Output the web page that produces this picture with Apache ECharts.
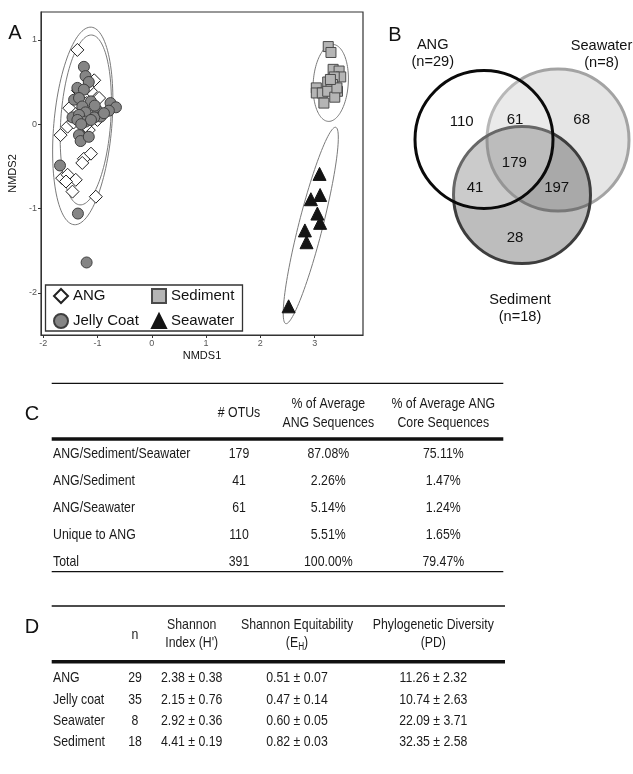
<!DOCTYPE html>
<html>
<head>
<meta charset="utf-8">
<title>ANG, jelly coat, seawater and sediment communities</title>
<script src="https://cdn.jsdelivr.net/npm/echarts@6.0.0/dist/echarts.min.js"></script>
<style>
html, body { margin: 0; padding: 0; background: #ffffff; }
#chart { width: 633px; height: 774px; }
</style>
</head>
<body>
<div id="chart"></div>
<script>
// ---------------- Panel A: NMDS ordination (NMDS1, NMDS2) ----------------
const angPoints = [
  [-1.37, 0.88], [-1.06, 0.52], [-1.12, 0.39], [-0.97, 0.31], [-1.31, 0.29],
  [-1.46, 0.21], [-1.52, 0.19], [-1.03, 0.17], [-1.31, 0.05], [-1.40, 0.12],
  [-1.55, -0.03], [-1.68, -0.13], [-1.16, -0.07], [-1.25, -0.41], [-1.12, -0.35],
  [-1.28, -0.46], [-1.65, -0.64], [-1.55, -0.60], [-1.40, -0.66], [-1.46, -0.80],
  [-1.03, -0.86], [-1.20, 0.25], [-1.10, 0.10], [-1.36, 0.40], [-1.22, -0.02],
  [-1.58, -0.68], [-1.00, 0.05], [-1.44, 0.02], [-1.18, 0.44]
];
const jellyCoatPoints = [
  [-1.25, 0.68], [-1.22, 0.57], [-1.16, 0.50], [-1.37, 0.43], [-1.25, 0.41],
  [-1.43, 0.29], [-1.34, 0.31], [-1.12, 0.27], [-1.28, 0.21], [-1.00, 0.16],
  [-0.76, 0.25], [-0.66, 0.20], [-0.79, 0.16], [-0.94, 0.09], [-1.46, 0.08],
  [-1.22, 0.14], [-1.34, 0.11], [-1.06, 0.08], [-1.22, 0.03], [-1.37, 0.05],
  [-1.12, 0.05], [-1.34, -0.13], [-1.31, -0.20], [-1.16, -0.15], [-1.69, -0.49],
  [-1.36, -1.06], [-1.20, -1.64], [-0.88, 0.13], [-1.05, 0.22], [-1.30, 0.00]
];
const sedimentPoints = [
  [3.25, 0.92], [3.30, 0.85], [3.34, 0.65], [3.45, 0.63], [3.48, 0.56],
  [3.36, 0.56], [3.24, 0.50], [3.33, 0.47], [3.42, 0.39], [3.03, 0.43],
  [3.03, 0.37], [3.14, 0.37], [3.30, 0.41], [3.24, 0.39], [3.37, 0.32],
  [3.17, 0.25], [3.41, 0.43], [3.29, 0.53]
];
const seawaterPoints = [
  [3.09, -0.59], [2.93, -0.89], [3.10, -0.84], [3.05, -1.06],
  [3.10, -1.17], [2.82, -1.26], [2.85, -1.40], [2.52, -2.16]
];

// ---------------- Panel B: OTUs shared between sample types ----------------
const vennSets = ['ANG', 'Seawater', 'Sediment'];
const vennSampleSizes = [29, 8, 18];
const vennRegions = ['ANG only', 'ANG & Seawater', 'Seawater only', 'All three',
                     'ANG & Sediment', 'Seawater & Sediment', 'Sediment only'];
const vennRegionCounts = [110, 61, 68, 179, 41, 197, 28];

// ---------------- Panel C: ANG OTUs by origin ----------------
const overlapCategories = ['ANG/Sediment/Seawater', 'ANG/Sediment', 'ANG/Seawater', 'Unique to ANG', 'Total'];
const otuCounts = [179, 41, 61, 110, 391];
const pctAvgAngSeqs = [87.08, 2.26, 5.14, 5.51, 100.00];
const pctAvgAngCoreSeqs = [75.11, 1.47, 1.24, 1.65, 79.47];
const tableCHeaders = ['', '# OTUs', '% of Average\nANG Sequences', '% of Average ANG\nCore Sequences'];

// ---------------- Panel D: alpha diversity ----------------
const diversityGroups = ['ANG', 'Jelly coat', 'Seawater', 'Sediment'];
const sampleN = [29, 35, 8, 18];
const shannonMean = [2.38, 2.15, 2.92, 4.41];
const shannonSD = [0.38, 0.76, 0.36, 0.19];
const equitMean = [0.51, 0.47, 0.60, 0.82];
const equitSD = [0.07, 0.14, 0.05, 0.03];
const pdMean = [11.26, 10.74, 22.09, 32.35];
const pdSD = [2.32, 2.63, 3.71, 2.58];

// ======================= layout & styling =======================
const SANS = '"Liberation Sans", Arial, Helvetica, sans-serif';

// Tables are set in a narrow face; fall back to a horizontally squeezed regular face.
function hasFont(family) {
  const ctx = document.createElement('canvas').getContext('2d');
  const sample = 'ANG/Sediment/Seawater 0123456789';
  ctx.font = '15px monospace';
  const w0 = ctx.measureText(sample).width;
  ctx.font = '15px "' + family + '", monospace';
  return Math.abs(ctx.measureText(sample).width - w0) > 0.5;
}
const NARROW = hasFont('Liberation Sans Narrow');
const TABLE_FONT = NARROW ? '"Liberation Sans Narrow", "Arial Narrow", sans-serif' : SANS;
const TABLE_SX = NARROW ? 1 : 0.82;
const INK = '#1a1a1a';

// Group dispersion ellipses: centre, then two conjugate semi-axis vectors (NMDS units)
const ellipseShapes = [
  [-1.271, -0.021, 0.158, 1.171, 0.532, -0.030],
  [-1.215, 0.050, 0.109, 1.007, 0.459, -0.020],
  [3.296, 0.489, 0.046, 0.456, 0.322, -0.013],
  [2.928, -1.201, 0.460, 1.164, 0.214, -0.036]
];

// Venn circles (grid units), painted in this order
const VENN_CIRCLES = [
  { set: 'Seawater', cx: 198, cy: 120, r: 71, fill: 'rgba(0,0,0,0.10)', stroke: '#a3a3a3' },
  { set: 'Sediment', cx: 162, cy: 175, r: 68.5, fill: 'rgba(0,0,0,0.26)', stroke: '#3d3d3d' },
  { set: 'ANG', cx: 124, cy: 119.5, r: 69, fill: 'rgba(255,255,255,0.22)', stroke: '#0a0a0a' }
];
const VENN_COUNT_POS = [[101.7, 101.7], [155, 100], [221.7, 100], [154.3, 143.3],
                        [115, 168.3], [196.7, 168.3], [155, 218.3]];
const VENN_SET_LABEL_POS = [[72.7, 33.9], [241.5, 34.9], [160, 288]];

const TABLE_C_COLS = [{ x: 53, align: 'left' }, { x: 239, align: 'center' },
                      { x: 328.3, align: 'center' }, { x: 443.3, align: 'center' }];
const TABLE_D_COLS = [{ x: 53, align: 'left' }, { x: 135, align: 'center' }, { x: 191.7, align: 'center' },
                      { x: 297, align: 'center' }, { x: 433.3, align: 'center' }];

const pct = v => v.toFixed(2) + '%';
const pm = (m, s) => m.toFixed(2) + ' \u00b1 ' + s.toFixed(2);

function cellText(x, y, text, align, extra) {
  return Object.assign({
    type: 'text', x: x, y: y, scaleX: TABLE_SX,
    style: { text: text, fill: INK, fontSize: 15, fontFamily: TABLE_FONT,
             align: align, verticalAlign: 'middle' }
  }, extra || {});
}

function tableSeries(gridIdx, rowCount, cols, rowCells) {
  return {
    type: 'custom', name: 'table-' + gridIdx, xAxisIndex: gridIdx, yAxisIndex: gridIdx,
    silent: true, data: Array.from({ length: rowCount }, (_, i) => [0, i]),
    renderItem(params, api) {
      const i = params.dataIndex;
      const cells = rowCells(i);
      return {
        type: 'group',
        children: cells.map((t, c) => {
          const p = api.coord([cols[c].x, i]);
          return cellText(p[0], p[1], t, cols[c].align);
        })
      };
    }
  };
}

function rule(x1, x2, y, w) {
  return { type: 'line', shape: { x1: x1, y1: y, x2: x2, y2: y },
           style: { stroke: '#111', lineWidth: w }, silent: true };
}
function letter(t, x, y) {
  return { type: 'text', x: x, y: y,
           style: { text: t, fontSize: 20, fontFamily: SANS, fill: '#111', align: 'center', verticalAlign: 'middle' } };
}
function header(t, x, y, extra) {
  const g = cellText(x, y, t, 'center');
  g.style.lineHeight = 19;
  if (extra) Object.assign(g.style, extra);
  return g;
}

const hiddenValueAxis = (gridIndex, min, max, inverse) =>
  ({ type: 'value', gridIndex: gridIndex, min: min, max: max, inverse: !!inverse, show: false,
     splitLine: { show: false } });
const hiddenCategoryAxis = (gridIndex, data) =>
  ({ type: 'category', gridIndex: gridIndex, data: data, inverse: true, show: false });

const pointAxisCommon = {
  type: 'value', gridIndex: 0, minInterval: 1, maxInterval: 1,
  splitLine: { show: false },
  axisLine: { show: true, onZero: false, lineStyle: { color: '#333', width: 1 } },
  axisTick: { show: true, length: 3, lineStyle: { color: '#333' } },
  axisLabel: { fontSize: 9, color: '#555', margin: 4, fontFamily: SANS,
               showMinLabel: false, showMaxLabel: false },
  nameLocation: 'middle',
  nameTextStyle: { fontSize: 11, color: '#111', fontFamily: SANS }
};

const option = {
  animation: false,
  backgroundColor: '#ffffff',
  textStyle: { fontFamily: SANS },
  grid: [
    { left: 41, top: 12, width: 322, height: 323, show: true, borderColor: '#333', borderWidth: 1.2,
      containLabel: false, outerBoundsMode: 'none' },
    { left: 360, top: 20, width: 273, height: 300, containLabel: false, outerBoundsMode: 'none' },
    { left: 0, top: 440, width: 633, height: 135, containLabel: false, outerBoundsMode: 'none' },
    { left: 0, top: 667.8, width: 633, height: 84.4, containLabel: false, outerBoundsMode: 'none' }
  ],
  xAxis: [
    Object.assign({}, pointAxisCommon, { min: -2.04, max: 3.89, name: 'NMDS1', nameGap: 15 }),
    hiddenValueAxis(1, 0, 273),
    hiddenValueAxis(2, 0, 633),
    hiddenValueAxis(3, 0, 633)
  ],
  yAxis: [
    Object.assign({}, pointAxisCommon, { gridIndex: 0, min: -2.5, max: 1.33, name: 'NMDS2', nameGap: 21 }),
    hiddenValueAxis(1, 0, 300, true),
    hiddenCategoryAxis(2, overlapCategories),
    hiddenCategoryAxis(3, diversityGroups)
  ],
  legend: [
    { data: ['ANG', 'Jelly Coat'], orient: 'vertical', left: 53, top: 288, padding: 0,
      itemWidth: 14, itemHeight: 14, itemGap: 9, selectedMode: false,
      textStyle: { fontSize: 15, color: '#111', fontFamily: SANS } },
    { data: ['Sediment', 'Seawater'], orient: 'vertical', left: 151, top: 288, padding: 0,
      itemWidth: 14, itemHeight: 14, itemGap: 9, selectedMode: false,
      textStyle: { fontSize: 15, color: '#111', fontFamily: SANS } }
  ],
  graphic: [
    letter('A', 15, 33), letter('B', 395, 35.5), letter('C', 32, 414), letter('D', 32, 627),
    { type: 'rect', z: 3, silent: true, shape: { x: 45.5, y: 285, width: 197, height: 46 },
      style: { fill: '#ffffff', stroke: '#333', lineWidth: 1.3 } },
    rule(51.7, 503.3, 383.3, 1.3), rule(51.7, 503.3, 439, 3.5), rule(51.7, 503.3, 571.7, 1.3),
    rule(51.7, 505, 606, 1.3), rule(51.7, 505, 661.7, 3.5),
    header(tableCHeaders[1], TABLE_C_COLS[1].x, 413.3),
    header(tableCHeaders[2], TABLE_C_COLS[2].x, 413),
    header(tableCHeaders[3], TABLE_C_COLS[3].x, 413),
    header('n', TABLE_D_COLS[1].x, 635),
    header('Shannon\nIndex (H\')', TABLE_D_COLS[2].x, 634.2, { lineHeight: 18.3 }),
    header('Shannon Equitability\n(E{sub|H})', TABLE_D_COLS[3].x, 634.2, {
      lineHeight: 18.3,
      rich: { sub: { fontSize: 10, fontFamily: TABLE_FONT, fill: INK, lineHeight: 18.3, verticalAlign: 'bottom' } }
    }),
    header('Phylogenetic Diversity\n(PD)', TABLE_D_COLS[4].x, 634.2, { lineHeight: 18.3 })
  ],
  series: [
    {
      type: 'custom', name: 'ellipses', xAxisIndex: 0, yAxisIndex: 0, silent: true, z: 1,
      data: ellipseShapes,
      renderItem(params, api) {
        const e = ellipseShapes[params.dataIndex];
        const pts = [];
        for (let k = 0; k <= 120; k++) {
          const t = k / 120 * Math.PI * 2;
          pts.push(api.coord([e[0] + e[2] * Math.cos(t) + e[4] * Math.sin(t),
                              e[1] + e[3] * Math.cos(t) + e[5] * Math.sin(t)]));
        }
        return { type: 'polyline', shape: { points: pts },
                 style: { stroke: '#7a7a7a', lineWidth: 1, fill: null } };
      }
    },
    { type: 'scatter', name: 'ANG', xAxisIndex: 0, yAxisIndex: 0, data: angPoints, z: 2,
      symbol: 'diamond', symbolSize: 13,
      itemStyle: { color: '#ffffff', borderColor: '#222', borderWidth: 1, opacity: 1 } },
    { type: 'scatter', name: 'Jelly Coat', xAxisIndex: 0, yAxisIndex: 0, data: jellyCoatPoints, z: 2,
      symbol: 'circle', symbolSize: 11,
      itemStyle: { color: '#858585', borderColor: '#3f3f3f', borderWidth: 1, opacity: 1 } },
    { type: 'scatter', name: 'Sediment', xAxisIndex: 0, yAxisIndex: 0, data: sedimentPoints, z: 2,
      symbol: 'rect', symbolSize: 10,
      itemStyle: { color: '#b5b5b5', borderColor: '#4a4a4a', borderWidth: 1, opacity: 1 } },
    { type: 'scatter', name: 'Seawater', xAxisIndex: 0, yAxisIndex: 0, data: seawaterPoints, z: 2,
      symbol: 'triangle', symbolSize: 13,
      itemStyle: { color: '#141414', borderColor: '#141414', borderWidth: 1, opacity: 1 } },

    {
      type: 'custom', name: 'venn-circles', xAxisIndex: 1, yAxisIndex: 1, silent: true,
      data: VENN_CIRCLES.map(c => [c.cx, c.cy]),
      renderItem(params, api) {
        const c = VENN_CIRCLES[params.dataIndex];
        const p = api.coord([c.cx, c.cy]);
        const r = api.size([c.r, 0])[0];
        return { type: 'circle', z2: params.dataIndex, shape: { cx: p[0], cy: p[1], r: r },
                 style: { fill: c.fill, stroke: c.stroke, lineWidth: 3 } };
      }
    },
    {
      type: 'custom', name: 'venn-counts', xAxisIndex: 1, yAxisIndex: 1, silent: true, z: 5,
      data: VENN_COUNT_POS.map((p, i) => [p[0], p[1], vennRegionCounts[i]]),
      renderItem(params, api) {
        const p = api.coord([api.value(0), api.value(1)]);
        return { type: 'text', x: p[0], y: p[1],
                 style: { text: String(vennRegionCounts[params.dataIndex]), fontSize: 15, fontFamily: SANS,
                          fill: '#111', align: 'center', verticalAlign: 'middle' } };
      }
    },
    {
      type: 'custom', name: 'venn-sets', xAxisIndex: 1, yAxisIndex: 1, silent: true, z: 5,
      data: VENN_SET_LABEL_POS,
      renderItem(params, api) {
        const i = params.dataIndex;
        const p = api.coord([api.value(0), api.value(1)]);
        return { type: 'text', x: p[0], y: p[1],
                 style: { text: vennSets[i] + '\n(n=' + vennSampleSizes[i] + ')', fontSize: 14.6, fontFamily: SANS,
                          lineHeight: 17, fill: '#111', align: 'center', verticalAlign: 'middle' } };
      }
    },

    tableSeries(2, overlapCategories.length, TABLE_C_COLS, i => [
      overlapCategories[i], String(otuCounts[i]), pct(pctAvgAngSeqs[i]), pct(pctAvgAngCoreSeqs[i])
    ]),
    tableSeries(3, diversityGroups.length, TABLE_D_COLS, i => [
      diversityGroups[i], String(sampleN[i]), pm(shannonMean[i], shannonSD[i]),
      pm(equitMean[i], equitSD[i]), pm(pdMean[i], pdSD[i])
    ])
  ]
};

const chart = echarts.init(document.getElementById('chart'), null, { renderer: 'canvas' });
chart.setOption(option);
</script>
</body>
</html>
